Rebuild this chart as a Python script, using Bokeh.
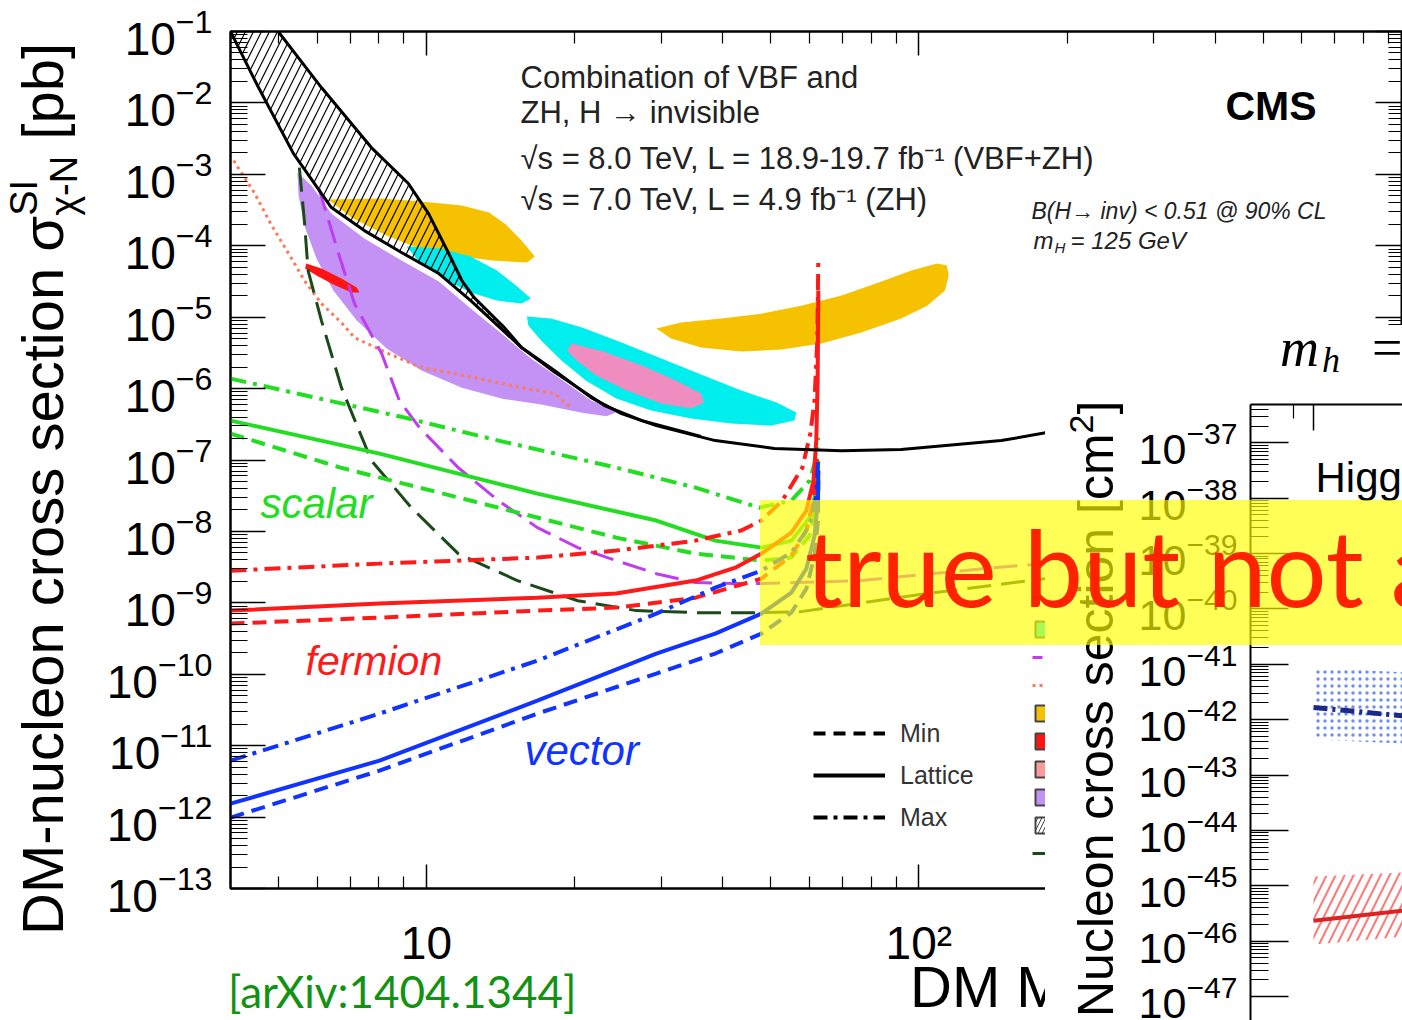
import math
from bokeh.plotting import figure
from bokeh.models import Range1d, FixedTicker, Label, Legend, LegendItem, Div, LogAxis
from bokeh.layouts import column
from bokeh.embed import file_html
from bokeh.resources import INLINE

# ---------------- main panel: ticks ----------------
X_MAJOR = [10, 100]
X_MINOR = [5, 6, 7, 8, 9, 20, 30, 40, 50, 60, 70, 80, 90, 200, 300, 400, 500, 600, 700, 800, 900]
X_TICK_LABELS = {10: "10", 100: "10\u00b2"}
Y_MAJOR = [1e-1, 1e-2, 1e-3, 1e-4, 1e-5, 1e-6, 1e-7, 1e-8, 1e-9, 1e-10, 1e-11, 1e-12, 1e-13]
Y_MINOR = [m * d for d in Y_MAJOR[1:] for m in range(2, 10)]

# ---------------- main panel: data (DM mass [GeV], sigma [pb]) ----------------
lux_x = [4.0, 4.56, 5.37, 6.41, 7.48, 8.90, 10.6, 12.3, 15.6, 18.2, 21.6, 24.9, 29.3, 38.6, 50.9, 69.7, 92.1, 147, 182, 300, 960]
lux_y = [1.0e-1, 1.64e-2, 1.95e-3, 3.43e-4, 1.63e-4, 8.04e-5, 4.08e-5, 1.71e-5, 3.75e-6, 1.79e-6, 7.48e-7, 4.47e-7,
         3.03e-7, 1.87e-7, 1.45e-7, 1.35e-7, 1.40e-7, 1.87e-7, 2.42e-7, 4.2e-7, 1.3e-6]
upper_x = [5.0, 6.12, 7.73, 9.19, 10.1, 11.1, 11.8, 12.5, 14.4, 15.6, 18.2, 23.0, 27.4, 36.1]
upper_y = [1.0e-1, 1.64e-2, 2.37e-3, 7.43e-4, 2.82e-4, 7.78e-5, 3.26e-5, 1.88e-5, 7.14e-6, 3.75e-6, 1.70e-6, 5.78e-7, 3.56e-7, 2.13e-7]

orange1_x = [6.32, 8.11, 9.77, 11.8, 13.4, 14.5, 15.6, 16.6, 16.0, 13.6, 11.4, 9.77, 8.30, 7.04]
orange1_y = [4.44e-4, 4.58e-4, 4.16e-4, 3.66e-4, 2.92e-4, 1.98e-4, 1.18e-4, 7.06e-5, 5.82e-5, 6.21e-5, 7.30e-5, 8.85e-5, 1.39e-4, 2.48e-4]
orange2_x = [29.3, 32.9, 39.7, 47.9, 57.7, 69.7, 84.0, 96.6, 109, 114, 115, 113, 104, 92.1, 76.4, 63.4, 52.6, 43.6, 36.1, 31.4]
orange2_y = [6.92e-6, 8.39e-6, 9.55e-6, 1.12e-5, 1.45e-5, 2.01e-5, 3.15e-5, 4.50e-5, 5.64e-5, 5.28e-5, 3.83e-5, 2.36e-5,
             1.45e-5, 9.55e-6, 6.08e-6, 4.27e-6, 3.52e-6, 3.30e-6, 3.75e-6, 5.01e-6]
cyan1_x = [9.11, 10.7, 12.3, 13.9, 15.2, 16.3, 15.6, 13.9, 12.3, 11.0, 9.77]
cyan1_y = [9.75e-5, 9.14e-5, 7.06e-5, 4.50e-5, 2.77e-5, 1.82e-5, 1.55e-5, 1.71e-5, 2.21e-5, 3.26e-5, 5.46e-5]
cyan2_x = [16.0, 17.9, 20.7, 24.9, 30.0, 36.1, 43.6, 51.4, 56.4, 55.9, 50.2, 41.6, 34.5, 28.6, 24.3, 21.1, 18.8, 17.1, 16.1]
cyan2_y = [1.02e-5, 9.55e-6, 7.14e-6, 4.41e-6, 2.63e-6, 1.57e-6, 9.38e-7, 6.37e-7, 4.61e-7, 3.56e-7, 3.03e-7, 3.24e-7,
           3.80e-7, 4.92e-7, 7.24e-7, 1.29e-6, 2.47e-6, 4.70e-6, 7.62e-6]
pink_x = [19.7, 22.6, 27.4, 32.2, 36.1, 36.6, 34.5, 30.0, 25.5, 22.1, 20.2, 19.3]
pink_y = [4.27e-6, 3.40e-6, 2.10e-6, 1.29e-6, 8.51e-7, 6.37e-7, 5.25e-7, 6.17e-7, 9.38e-7, 1.52e-6, 2.47e-6, 3.40e-6]
purple_x = [5.47, 5.84, 6.41, 7.48, 8.90, 10.6, 12.3, 14.2, 16.3, 18.8, 21.6, 23.7, 24.2, 23.2, 20.7, 17.1, 14.2, 11.8,
            9.77, 8.30, 7.22, 6.47, 5.98, 5.65, 5.50]
purple_y = [1.06e-3, 6.97e-4, 2.82e-4, 1.26e-4, 6.21e-5, 3.15e-5, 1.32e-5, 5.89e-6, 2.63e-6, 1.34e-6, 6.79e-7, 5.25e-7,
            4.6e-7, 4.1e-7, 4.6e-7, 5.97e-7, 7.24e-7, 1.03e-6, 1.79e-6, 3.63e-6, 8.95e-6, 2.36e-5, 6.62e-5, 1.92e-4, 5.05e-4]
redblob_x = [5.70, 6.12, 6.72, 7.22, 7.31, 7.04, 6.47, 5.98, 5.67]
redblob_y = [5.64e-5, 4.80e-5, 3.48e-5, 2.60e-5, 2.21e-5, 2.21e-5, 2.86e-5, 3.83e-5, 4.80e-5]

xe10_x = [4.06, 4.48, 4.85, 5.25, 5.65, 6.12, 6.72, 7.14, 8.37, 9.77, 11.4, 13.4, 15.6, 18.2, 19.7]
xe10_y = [1.56e-3, 5.38e-4, 1.92e-4, 7.78e-5, 3.26e-5, 1.55e-5, 8.39e-6, 5.18e-6, 3.09e-6, 1.97e-6, 1.62e-6, 1.29e-6, 1.03e-6, 8.51e-7, 5.42e-7]
cdmslite_x = [5.52, 5.65, 5.75, 6.12, 6.72, 7.73, 9.32, 11.6, 15.3, 20.3, 26.7, 35.2, 47.4, 57.7, 96.6, 180, 300]
cdmslite_y = [1.24e-3, 2.25e-4, 4.50e-5, 8.95e-6, 1.03e-6, 9.82e-8, 2.15e-8, 4.89e-9, 2.05e-9, 1.07e-9, 7.78e-10, 7.29e-10,
              7.29e-10, 7.53e-10, 1.26e-9, 2.18e-9, 3.5e-9]
scdms_x = [6.04, 6.63, 7.14, 8.11, 8.81, 9.68, 11.6, 14.0, 16.8, 20.3, 24.3, 29.3, 35.2, 42.4, 47.4, 76.4, 142, 180, 300]
scdms_y = [6.53e-4, 7.78e-5, 1.55e-5, 3.09e-6, 6.79e-7, 2.84e-7, 7.83e-8, 2.70e-8, 1.13e-8, 5.93e-9, 3.90e-9, 2.56e-9,
           1.92e-9, 1.86e-9, 1.86e-9, 2.05e-9, 3.11e-9, 3.54e-9, 5.0e-9]

scalar_max_x = [4.0, 9.02, 14.0, 24.3, 35.2, 47.4, 55.1, 60.0, 61.9, 62.5]
scalar_max_y = [1.38e-6, 3.93e-7, 1.87e-7, 7.83e-8, 4.10e-8, 2.15e-8, 2.70e-8, 5.14e-8, 1.08e-7, 2.06e-7]
scalar_lat_x = [4.0, 8.03, 16.8, 29.3, 38.6, 47.9, 55.1, 60.0, 61.9, 62.5]
scalar_lat_y = [3.56e-7, 1.23e-7, 3.38e-8, 1.42e-8, 7.43e-9, 5.93e-9, 7.43e-9, 1.56e-8, 3.73e-8, 9.82e-8]
scalar_min_x = [4.0, 6.69, 14.0, 24.3, 35.2, 47.9, 55.1, 60.0, 61.9, 62.5]
scalar_min_y = [2.34e-7, 7.83e-8, 2.15e-8, 8.18e-9, 4.89e-9, 3.90e-9, 4.30e-9, 8.73e-9, 2.30e-8, 7.11e-8]

fermion_max_x = [4.0, 8.03, 16.8, 24.3, 35.2, 43.6, 47.9, 52.8, 58.0, 60.2, 61.4, 62.2, 62.5]
fermion_max_y = [2.82e-9, 3.54e-9, 4.30e-9, 5.39e-9, 7.43e-9, 1.03e-8, 1.42e-8, 2.70e-8, 7.83e-8, 2.34e-7, 6.79e-7, 4.70e-6, 6.62e-5]
fermion_lat_x = [4.0, 8.03, 16.8, 24.3, 35.2, 42.4, 47.9, 55.1, 59.1, 61.1, 61.9, 62.3, 62.5]
fermion_lat_y = [7.78e-10, 9.75e-10, 1.18e-9, 1.35e-9, 2.05e-9, 3.11e-9, 4.89e-9, 9.62e-9, 1.95e-8, 5.14e-8, 1.87e-7, 1.29e-6, 2.36e-5]
fermion_min_x = [4.0, 8.03, 16.8, 24.3, 35.2, 47.9, 55.1, 59.1, 61.1, 62.2]
fermion_min_y = [5.12e-10, 6.21e-10, 7.78e-10, 8.57e-10, 1.18e-9, 2.18e-9, 4.58e-9, 1.03e-8, 2.70e-8, 1.15e-7]

vector_max_x = [4.0, 8.03, 16.8, 29.3, 38.6, 47.9, 55.1, 60.0, 61.9, 62.5]
vector_max_y = [6.17e-12, 2.81e-11, 1.55e-10, 7.06e-10, 1.63e-9, 2.82e-9, 5.05e-9, 1.21e-8, 3.17e-8, 1.08e-7]
vector_lat_x = [4.0, 8.03, 16.8, 29.3, 38.6, 47.9, 55.1, 59.1, 61.4, 62.4, 62.5]
vector_lat_y = [1.54e-12, 6.17e-12, 4.27e-11, 1.95e-10, 3.71e-10, 7.06e-10, 1.39e-9, 3.01e-9, 8.73e-9, 2.70e-8, 7.11e-8]
vector_min_x = [4.0, 8.03, 16.8, 29.3, 38.6, 47.9, 55.1, 59.1, 61.4, 62.4, 62.5]
vector_min_y = [9.82e-13, 4.47e-12, 2.81e-11, 1.02e-10, 1.95e-10, 3.71e-10, 7.29e-10, 1.58e-9, 4.58e-9, 1.42e-8, 5.14e-8]

LEGEND_STYLES = ["Min", "Lattice", "Max"]
LEGEND_EXPTS = ["CRESST-II", "SuperCDMS", "XENON10", "DAMA/LIBRA", "CoGeNT", "CRESST-II (1\u03c3)",
                "CDMS-II (Si)", "XENON100", "CDMSlite"]
# off-scale anchor points for the legend-only proxy glyphs (outside the plotted ranges)
PROXY_X = [1.0, 2.0, 2.0]
PROXY_Y = [1e-20, 1e-20, 2e-20]

# ---------------- inset panel (Higgs portal) ----------------
P2_Y_MAJOR = [1e-37, 1e-38, 1e-39, 1e-40, 1e-41, 1e-42, 1e-43, 1e-44, 1e-45, 1e-46, 1e-47]
P2_Y_MINOR = [m * d for d in P2_Y_MAJOR for m in range(2, 10)]
P2_X_MAJOR = [10]
P2_X_MINOR = [9]
hp_x = [10, 16]
hp_blue_top = [8.7e-42, 7.2e-42]
hp_blue_bot = [4.4e-43, 3.7e-43]
hp_blue_line = [1.66e-42, 1.17e-42]
hp_red_top = [1.48e-45, 1.74e-45]
hp_red_bot = [8.7e-47, 1.2e-46]
hp_red_line = [2.34e-46, 3.55e-46]

# ---------------- styles ----------------
SANS = "Liberation Sans"
SERIF = "Liberation Serif"
C_ORANGE = "#f6c200"
C_CYAN = "#00eeee"
C_PINK = "#ef8cc0"
C_PURPLE = "#c392f4"
C_REDBLOB = "#ff1414"
C_GREEN = "#22dd22"
C_RED = "#ff1a1a"
C_BLUE = "#1133ff"
C_MAGENTA = "#c03cf0"
C_DKGREEN = "#1a4a1a"
C_SALMON = "#ff7a5c"
DASH = "14 8"
DASHDOT = "16 7 4 7"
LONGDASH = "24 10"
DOT = "3 4"


def style_axis(ax, ticker, tin, tmin, labels=True, size="46px", standoff=18):
    ax.ticker = ticker
    ax.axis_line_color = "black"
    ax.axis_line_width = 2
    ax.major_tick_in = tin
    ax.major_tick_out = 0
    ax.minor_tick_in = tmin
    ax.minor_tick_out = 0
    ax.major_tick_line_color = "black"
    ax.minor_tick_line_color = "black"
    ax.major_tick_line_width = 1.5
    ax.minor_tick_line_width = 1.2
    if labels:
        ax.major_label_text_font = SANS
        ax.major_label_text_font_size = size
        ax.major_label_text_color = "black"
        ax.major_label_standoff = standoff
    else:
        ax.major_label_overrides = {t: "" for t in ticker.ticks}
        ax.major_label_text_font_size = "1px"
        ax.major_label_standoff = 0


def txt(fig, x, y, s, size, color="black", font=SANS, style="normal"):
    fig.add_layout(Label(x=x, y=y, x_units="canvas", y_units="canvas", text=s,
                         text_font=font, text_font_size=f"{size}px", text_font_style=style,
                         text_color=color, text_align="left", text_baseline="alphabetic"))


def html_box(html, left, top, width, height, extra=None):
    st = {"position": "absolute", "left": f"{left}px", "top": f"{top}px",
          "width": f"{width}px", "height": f"{height}px", "overflow": "hidden"}
    if extra:
        st.update(extra)
    return Div(text=html, width=width, height=height, margin=0, styles=st)


# ================= main figure =================
p = figure(width=1402, height=1020, x_axis_type="log", y_axis_type="log",
           x_range=Range1d(4.0, 960.0), y_range=Range1d(1e-13, 1e-1),
           toolbar_location=None, output_backend="svg",
           min_border_left=230, min_border_right=0, min_border_top=31, min_border_bottom=132)
p.xgrid.visible = False
p.ygrid.visible = False
p.outline_line_color = "black"
p.outline_line_width = 2
p.background_fill_color = "white"
p.border_fill_color = "white"

style_axis(p.below[0], FixedTicker(ticks=X_MAJOR, minor_ticks=X_MINOR), 24, 12, True, "46px", 28)
p.below[0].major_label_overrides = X_TICK_LABELS
style_axis(p.left[0], FixedTicker(ticks=Y_MAJOR, minor_ticks=Y_MINOR), 35, 17, True, "46px", 18)
top_ax = LogAxis()
style_axis(top_ax, FixedTicker(ticks=X_MAJOR, minor_ticks=X_MINOR), 24, 12, False)
p.add_layout(top_ax, "above")
right_ax = LogAxis()
style_axis(right_ax, FixedTicker(ticks=Y_MAJOR, minor_ticks=Y_MINOR), 27, 14, False)
p.add_layout(right_ax, "right")

# filled regions
p.patch(purple_x, purple_y, fill_color=C_PURPLE, line_color=None)
p.patch(orange1_x, orange1_y, fill_color=C_ORANGE, line_color=None)
p.patch(orange2_x, orange2_y, fill_color=C_ORANGE, line_color=None)
p.patch(cyan1_x, cyan1_y, fill_color=C_CYAN, line_color=None)
p.patch(cyan2_x, cyan2_y, fill_color=C_CYAN, line_color=None)
p.patch(pink_x, pink_y, fill_color=C_PINK, line_color=None)
p.patch(redblob_x, redblob_y, fill_color=C_REDBLOB, line_color=None)

# hatched band between the two black limit curves
band_x = upper_x[:10] + lux_x[8::-1]
band_y = upper_y[:10] + lux_y[8::-1]
p.patch(band_x, band_y, fill_alpha=0, line_color=None, hatch_pattern="/",
        hatch_color="black", hatch_scale=16, hatch_weight=1.2)

# experiment curves
p.line(xe10_x, xe10_y, line_color=C_SALMON, line_width=3, line_dash=DOT)
p.line(cdmslite_x, cdmslite_y, line_color=C_DKGREEN, line_width=3, line_dash=LONGDASH)
p.line(scdms_x, scdms_y, line_color=C_MAGENTA, line_width=3, line_dash=LONGDASH)

# Higgs-portal interpretations
for xs, ys, dash in [(scalar_max_x, scalar_max_y, DASHDOT), (scalar_lat_x, scalar_lat_y, "solid"), (scalar_min_x, scalar_min_y, DASH)]:
    p.line(xs, ys, line_color=C_GREEN, line_width=4, line_dash=dash)
for xs, ys, dash in [(fermion_max_x, fermion_max_y, DASHDOT), (fermion_lat_x, fermion_lat_y, "solid"), (fermion_min_x, fermion_min_y, DASH)]:
    p.line(xs, ys, line_color=C_RED, line_width=4, line_dash=dash)
for xs, ys, dash in [(vector_max_x, vector_max_y, DASHDOT), (vector_lat_x, vector_lat_y, "solid"), (vector_min_x, vector_min_y, DASH)]:
    p.line(xs, ys, line_color=C_BLUE, line_width=4, line_dash=dash)

# black limit curves
p.line(lux_x, lux_y, line_color="black", line_width=3)
p.line(upper_x, upper_y, line_color="black", line_width=3)

# legend: line styles (proxies lie outside the plotted range)
lg_min = p.line(PROXY_X[:2], PROXY_Y[:2], line_color="black", line_width=4, line_dash="12 8")
lg_lat = p.line(PROXY_X[:2], PROXY_Y[:2], line_color="black", line_width=4)
lg_max = p.line(PROXY_X[:2], PROXY_Y[:2], line_color="black", line_width=4, line_dash="14 6 4 6")
leg1 = Legend(items=[LegendItem(label=l, renderers=[r]) for l, r in zip(LEGEND_STYLES, [lg_min, lg_lat, lg_max])],
              location=(583, 56), glyph_width=72, glyph_height=30, label_height=30, spacing=12,
              padding=0, margin=0, label_standoff=15, label_text_font=SANS, label_text_font_size="25px",
              label_text_color="#333333", border_line_alpha=0, background_fill_alpha=0)
p.add_layout(leg1)

# legend: experiments (mostly hidden by the inset)
e_r = [
    p.patch(PROXY_X, PROXY_Y, fill_color=C_CYAN, line_color="#444444", line_width=2),
    p.line(PROXY_X[:2], PROXY_Y[:2], line_color=C_MAGENTA, line_width=3, line_dash="10 5"),
    p.line(PROXY_X[:2], PROXY_Y[:2], line_color=C_SALMON, line_width=3, line_dash="3 4"),
    p.patch(PROXY_X, PROXY_Y, fill_color=C_ORANGE, line_color="#444444", line_width=2),
    p.patch(PROXY_X, PROXY_Y, fill_color=C_REDBLOB, line_color="#444444", line_width=2),
    p.patch(PROXY_X, PROXY_Y, fill_color="#ff9a9a", line_color="#444444", line_width=2),
    p.patch(PROXY_X, PROXY_Y, fill_color=C_PURPLE, line_color="#444444", line_width=2),
    p.patch(PROXY_X, PROXY_Y, fill_color="white", line_color="#444444", line_width=2, hatch_pattern="/",
            hatch_color="#444444", hatch_scale=8, hatch_weight=1),
    p.line(PROXY_X[:2], PROXY_Y[:2], line_color=C_DKGREEN, line_width=3, line_dash="14 6"),
]
leg2 = Legend(items=[LegendItem(label=l, renderers=[r]) for l, r in zip(LEGEND_EXPTS, e_r)],
              location=(802, 25), glyph_width=30, glyph_height=20, label_height=20, spacing=8,
              padding=0, margin=0, label_standoff=12, label_text_font=SANS, label_text_font_size="14px",
              border_line_alpha=0, background_fill_alpha=0)
p.add_layout(leg2)

# texts inside the main frame
txt(p, 520, 77, "Combination of VBF and", 31, "#222222")
txt(p, 520, 112, "ZH, H \u2192 invisible", 31, "#222222")
txt(p, 520, 158, "\u221as = 8.0 TeV, L = 18.9-19.7 fb\u207b\u00b9 (VBF+ZH)", 31, "#222222")
txt(p, 520, 199, "\u221as = 7.0 TeV, L = 4.9 fb\u207b\u00b9 (ZH)", 31, "#222222")
txt(p, 1225, 105, "CMS", 41, "black", style="bold")
txt(p, 1031, 210, "B(H\u2192 inv) < 0.51 @ 90% CL", 23, "#222222", style="italic")
txt(p, 1033, 240, "m", 24, "#222222", style="italic")
txt(p, 1054, 247, "H", 15, "#222222", style="italic")
txt(p, 1070, 240, "= 125 GeV", 24, "#222222", style="italic")
txt(p, 260, 503, "scalar", 42, C_GREEN, style="italic")
txt(p, 305, 660, "fermion", 41, C_RED, style="italic")
txt(p, 524, 750, "vector", 42, C_BLUE, style="italic")

# titles outside the frame (HTML text)
ytitle = html_box(
    '<div style="position:absolute;left:-2px;top:935px;transform:rotate(-90deg);transform-origin:0 0;'
    'font-family:\'Liberation Sans\';font-size:58px;line-height:90px;white-space:nowrap;color:black;">'
    'DM-nucleon cross section \u03c3<span style="display:inline-block;font-size:38px;line-height:40px;'
    'vertical-align:-14px;">SI<br>\u03c7-N</span> [pb]</div>', 0, 0, 110, 1020)
xtitle = html_box(
    '<div style="position:absolute;left:0;top:0;font-family:\'Liberation Sans\';font-size:58px;'
    'line-height:58px;white-space:nowrap;color:black;">DM Mass [GeV]</div>', 910, 958, 430, 62)
arxiv = html_box(
    '<div style="position:absolute;left:2px;top:0;font-family:Lato;font-size:44px;line-height:normal;'
    'white-space:nowrap;color:#129212;">[arXiv:1404.1344]</div>', 226, 965, 380, 55)

# white sheet of the inset picture
sheet = html_box("", 1045, 325, 357, 695, {"background-color": "white"})

# ================= inset figure =================
# (its left border matches the main figure's 230 px, the canvas starts 25 px left of the sheet)
p2 = figure(width=382, height=695, x_axis_type="log", y_axis_type="log", x_axis_location="above",
            x_range=Range1d(7.17, 16.0), y_range=Range1d(3.7e-48, 4.9e-37),
            toolbar_location=None, output_backend="svg",
            min_border_left=230, min_border_right=0, min_border_top=79, min_border_bottom=0,
            styles={"position": "absolute", "left": "1020px", "top": "325px"})
p2.xgrid.visible = False
p2.ygrid.visible = False
p2.outline_line_color = None
p2.background_fill_color = "white"
p2.border_fill_color = None
style_axis(p2.left[0], FixedTicker(ticks=P2_Y_MAJOR, minor_ticks=P2_Y_MINOR), 38, 18, True, "43px", 13)
style_axis(p2.above[0], FixedTicker(ticks=P2_X_MAJOR, minor_ticks=P2_X_MINOR), 26, 14, False)

p2.patch(hp_x + hp_x[::-1], hp_blue_top + hp_blue_bot[::-1], fill_alpha=0, line_color=None,
         hatch_pattern=".", hatch_color="#6f8ff0", hatch_scale=7, hatch_weight=2)
p2.line(hp_x, hp_blue_line, line_color="#1b2a8a", line_width=5, line_dash="14 5 3 5")
p2.patch(hp_x + hp_x[::-1], hp_red_top + hp_red_bot[::-1], fill_alpha=0, line_color=None,
         hatch_pattern="/", hatch_color="#ff5555", hatch_scale=18, hatch_weight=2, hatch_alpha=0.8)
p2.line(hp_x, hp_red_line, line_color="#dd2222", line_width=4)
txt(p2, 295, 152, "Higgs", 42)

p2_ytitle = html_box(
    '<div style="position:absolute;left:16px;top:692px;transform:rotate(-90deg);transform-origin:0 0;'
    'font-family:\'Liberation Sans\';font-size:50px;line-height:70px;white-space:nowrap;color:black;">'
    'Nucleon cross section [cm<span style="font-size:34px;line-height:1;vertical-align:20px;">2</span>]</div>',
    1045, 325, 205, 695)
mh_title = html_box(
    '<div style="position:absolute;left:40px;top:0px;font-family:\'Liberation Serif\';font-style:italic;'
    'font-size:54px;line-height:normal;color:black;">m</div>'
    '<div style="position:absolute;left:82px;top:22px;font-family:\'Liberation Serif\';font-style:italic;'
    'font-size:36px;line-height:normal;color:black;">h</div>'
    '<div style="position:absolute;left:132px;top:0px;font-family:\'Liberation Serif\';'
    'font-size:54px;line-height:normal;color:black;">=</div>', 1240, 317, 162, 72)

# ================= banner =================
banner = html_box(
    '<div style="position:absolute;left:45px;top:13px;font-family:Lato;font-size:106px;'
    'line-height:106px;color:#ff2200;white-space:nowrap;">true but not a</div>',
    760, 500, 642, 145, {"background-color": "rgba(255,255,0,0.66)"})

layout = column(p, ytitle, xtitle, arxiv, sheet, p2, p2_ytitle, mh_title, banner)
open("out.html", "w").write(file_html(layout, INLINE, title="DM-nucleon cross section"))
